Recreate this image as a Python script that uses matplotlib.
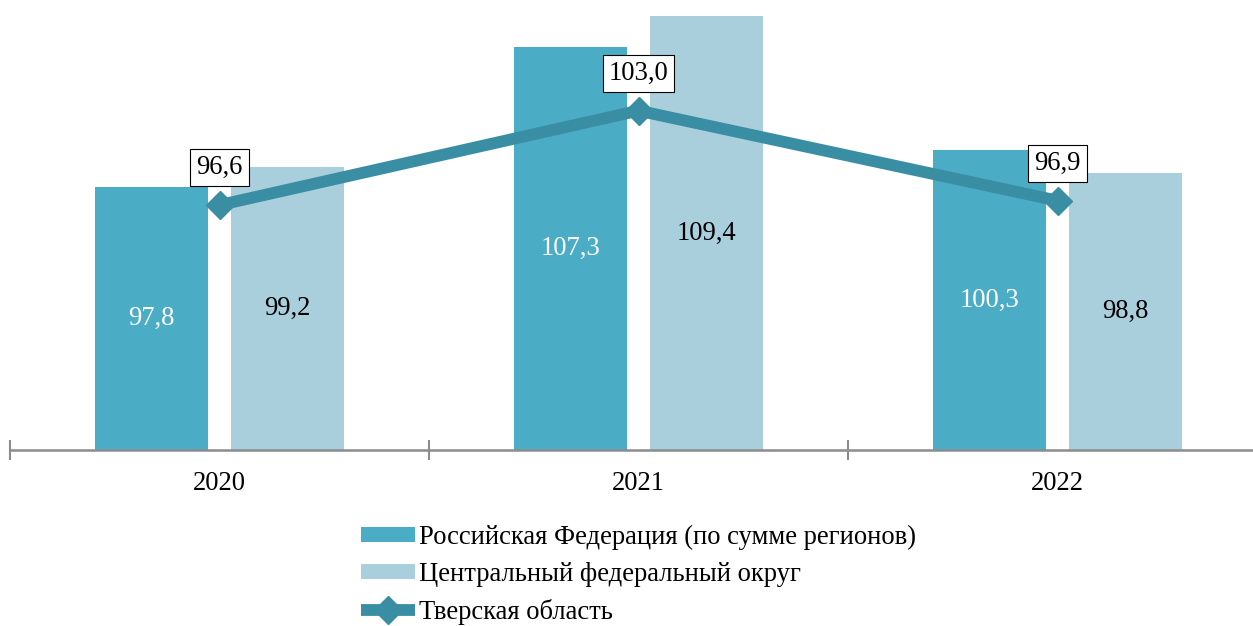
import matplotlib.pyplot as plt
import numpy as np
from matplotlib.ticker import FixedLocator

plt.rcParams['font.family'] = ['Liberation Serif', 'DejaVu Serif']

years = ["2020", "2021", "2022"]
rf_values = [97.8, 107.3, 100.3]
cfd_values = [99.2, 109.4, 98.8]
tver_values = [96.6, 103.0, 96.9]

labels = ["Российская Федерация (по сумме регионов)",
          "Центральный федеральный округ",
          "Тверская область"]

c_rf = "#4bacc6"
c_cfd = "#a9cfdd"
c_line = "#3a8ea3"
base = 80
fs = 19.2

fig = plt.figure(figsize=(12.53, 6.26), dpi=100)
ax = fig.add_axes([10 / 1253, 176 / 626, 1243 / 1253, 450 / 626])

x = np.arange(len(years))
w = 0.27
off = 0.162
b1 = ax.bar(x - off, np.array(rf_values) - base, w, bottom=base, color=c_rf, label=labels[0], zorder=2)
b2 = ax.bar(x + off, np.array(cfd_values) - base, w, bottom=base, color=c_cfd, label=labels[1], zorder=2)
ln, = ax.plot(x, tver_values, color=c_line, lw=8.5, marker="D", markersize=14,
              label=labels[2], zorder=3, solid_capstyle="butt")

for xi, v in zip(x, rf_values):
    ax.text(xi - off, (base + v) / 2, f"{v:.1f}".replace(".", ","), color="white",
            ha="center", va="center", fontsize=fs, zorder=4)
for xi, v in zip(x, cfd_values):
    ax.text(xi + off, (base + v) / 2, f"{v:.1f}".replace(".", ","), color="black",
            ha="center", va="center", fontsize=fs, zorder=4)
for xi, v in zip(x, tver_values):
    ax.annotate(f"{v:.1f}".replace(".", ","), (xi, v), xytext=(0, 27), textcoords="offset points",
                ha="center", va="center", fontsize=fs, zorder=5,
                bbox=dict(boxstyle="square,pad=0.22", fc="white", ec="black", lw=0.8))

ax.set_ylim(base, 110.5)
ax.set_xlim(-0.5, -0.5 + 1243 / 419)
for s in ["top", "right", "left"]:
    ax.spines[s].set_visible(False)
ax.spines["bottom"].set_color("#8c8c8c")
ax.spines["bottom"].set_linewidth(1.8)
ax.set_yticks([])
ax.set_xticks(x)
ax.set_xticklabels(years, fontsize=fs)
ax.tick_params(axis="x", which="major", length=0, pad=15)
ax.xaxis.set_minor_locator(FixedLocator([-0.5, 0.5, 1.5, 2.5]))
ax.tick_params(axis="x", which="minor", direction="inout", length=14, width=1.5, color="#8c8c8c")

fig.legend(handles=[b1, b2, ln], labels=labels, loc="upper left",
           bbox_to_anchor=(350 / 1253, 1 - 514 / 626), frameon=False, fontsize=fs,
           handlelength=2.05, handleheight=0.5, handletextpad=0.15, labelspacing=0.45,
           borderaxespad=0)

fig.savefig("out.png", dpi=100)
